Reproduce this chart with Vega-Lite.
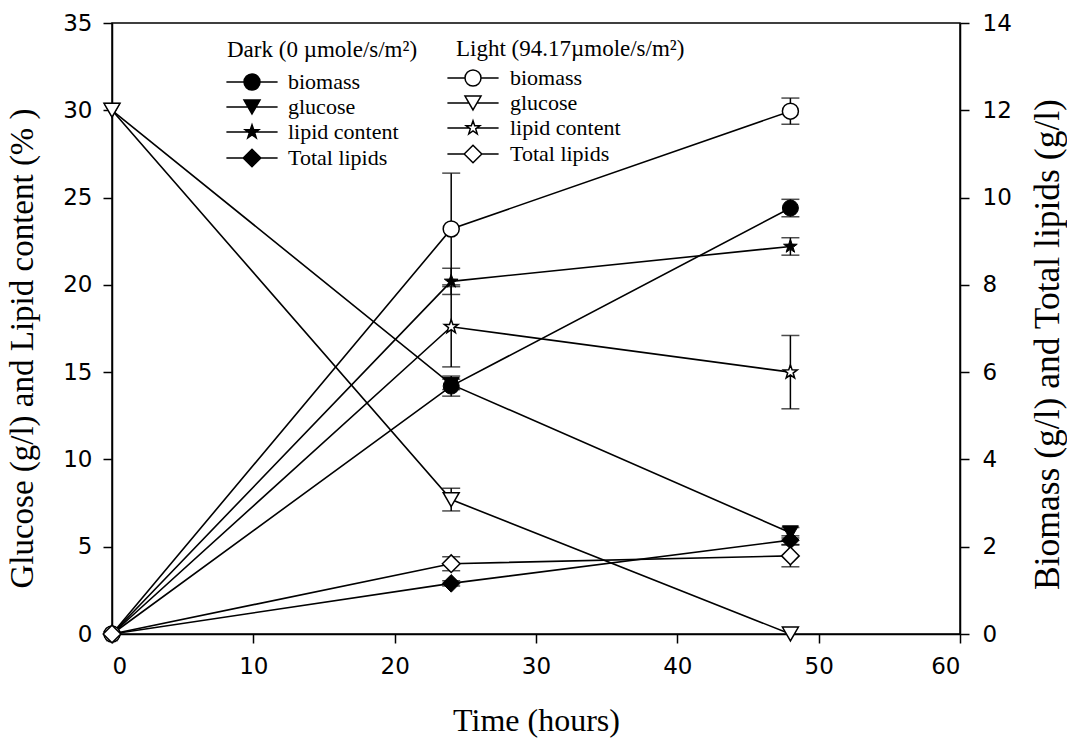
{
  "$schema": "https://vega.github.io/schema/vega-lite/v6.json",
  "width": 848,
  "height": 611,
  "autosize": {"type": "none"},
  "padding": {"left": 112, "top": 23, "right": 107, "bottom": 104},
  "background": "white",
  "config": {
    "view": {"stroke": "black", "strokeWidth": 1.5},
    "axis": {
      "domainColor": "black", "domainWidth": 1.5,
      "tickColor": "black", "tickWidth": 1.5, "tickSize": 9,
      "grid": false,
      "labelFont": "DejaVu Sans", "labelFontSize": 23, "labelColor": "black",
      "titleFont": "Liberation Serif", "titleFontSize": 32, "titleFontWeight": "normal", "titleColor": "black"
    },
    "legend": {
      "orient": "none", "padding": 0,
      "titleFont": "Liberation Serif", "titleFontSize": 23, "titleFontWeight": "normal", "titleColor": "black", "titleLimit": 400,
      "labelFont": "Liberation Serif", "labelFontSize": 22, "labelColor": "black", "labelLimit": 300,
      "symbolSize": 256, "symbolStrokeWidth": 1.5, "symbolOpacity": 1, "rowPadding": 3
    }
  },
  "data": {
    "values": [
      {"time": 0, "cond": "Dark", "measure": "glucose", "side": "left", "value": 30, "sd": 0},
      {"time": 24, "cond": "Dark", "measure": "glucose", "side": "left", "value": 14.3, "sd": 0.3},
      {"time": 48, "cond": "Dark", "measure": "glucose", "side": "left", "value": 5.8, "sd": 0.3},
      {"time": 0, "cond": "Dark", "measure": "lipid content", "side": "left", "value": 0, "sd": 0},
      {"time": 24, "cond": "Dark", "measure": "lipid content", "side": "left", "value": 20.2, "sd": 0.75},
      {"time": 48, "cond": "Dark", "measure": "lipid content", "side": "left", "value": 22.2, "sd": 0.5},
      {"time": 0, "cond": "Light", "measure": "glucose", "side": "left", "value": 30, "sd": 0},
      {"time": 24, "cond": "Light", "measure": "glucose", "side": "left", "value": 7.7, "sd": 0.65},
      {"time": 48, "cond": "Light", "measure": "glucose", "side": "left", "value": 0, "sd": 0},
      {"time": 0, "cond": "Light", "measure": "lipid content", "side": "left", "value": 0, "sd": 0},
      {"time": 24, "cond": "Light", "measure": "lipid content", "side": "left", "value": 17.6, "sd": 2.3},
      {"time": 48, "cond": "Light", "measure": "lipid content", "side": "left", "value": 15.0, "sd": 2.1},
      {"time": 0, "cond": "Dark", "measure": "biomass", "side": "right", "value": 0, "sd": 0},
      {"time": 24, "cond": "Dark", "measure": "biomass", "side": "right", "value": 5.68, "sd": 0.23},
      {"time": 48, "cond": "Dark", "measure": "biomass", "side": "right", "value": 9.76, "sd": 0.2},
      {"time": 0, "cond": "Dark", "measure": "Total lipids", "side": "right", "value": 0, "sd": 0},
      {"time": 24, "cond": "Dark", "measure": "Total lipids", "side": "right", "value": 1.16, "sd": 0.06},
      {"time": 48, "cond": "Dark", "measure": "Total lipids", "side": "right", "value": 2.15, "sd": 0.1},
      {"time": 0, "cond": "Light", "measure": "biomass", "side": "right", "value": 0, "sd": 0},
      {"time": 24, "cond": "Light", "measure": "biomass", "side": "right", "value": 9.28, "sd": 1.28},
      {"time": 48, "cond": "Light", "measure": "biomass", "side": "right", "value": 11.98, "sd": 0.3},
      {"time": 0, "cond": "Light", "measure": "Total lipids", "side": "right", "value": 0, "sd": 0},
      {"time": 24, "cond": "Light", "measure": "Total lipids", "side": "right", "value": 1.61, "sd": 0.16},
      {"time": 48, "cond": "Light", "measure": "Total lipids", "side": "right", "value": 1.79, "sd": 0.25}
    ]
  },
  "encoding": {
    "x": {
      "field": "time", "type": "quantitative",
      "scale": {"domain": [0, 60], "nice": false},
      "axis": {
        "title": "Time (hours)", "values": [0, 10, 20, 30, 40, 50, 60],
        "labelPadding": 12,
        "titleX": 424, "titleY": 96, "titleAlign": "center", "titleBaseline": "alphabetic"
      }
    }
  },
  "layer": [
    {
      "transform": [{"filter": "datum.side === 'left'"}],
      "mark": {"type": "line", "color": "black", "strokeWidth": 1.6},
      "encoding": {
        "y": {
          "field": "value", "type": "quantitative",
          "scale": {"domain": [0, 35], "nice": false},
          "axis": {
            "orient": "left", "title": "Glucose (g/l) and  Lipid content (% )",
            "values": [0, 5, 10, 15, 20, 25, 30, 35], "labelPadding": 11,
            "titleFontSize": 33,
            "titleAngle": -90, "titleX": -80, "titleY": 325, "titleAlign": "center", "titleBaseline": "alphabetic"
          }
        },
        "detail": [{"field": "cond"}, {"field": "measure"}]
      }
    },
    {
      "transform": [{"filter": "datum.side === 'right'"}],
      "mark": {"type": "line", "color": "black", "strokeWidth": 1.6},
      "encoding": {
        "y": {
          "field": "value", "type": "quantitative",
          "scale": {"domain": [0, 14], "nice": false},
          "axis": {
            "orient": "right", "title": "Biomass (g/l) and Total lipids (g/l)",
            "values": [0, 2, 4, 6, 8, 10, 12, 14], "labelPadding": 13,
            "titleFontSize": 35.5,
            "titleAngle": -90, "titleX": 98, "titleY": 321, "titleAlign": "center", "titleBaseline": "alphabetic"
          }
        },
        "detail": [{"field": "cond"}, {"field": "measure"}]
      }
    },
    {
      "transform": [{"filter": "datum.side === 'left' && datum.sd > 0"}],
      "mark": {"type": "errorbar", "ticks": true, "size": 18, "thickness": 1.5, "color": "black"},
      "encoding": {
        "y": {"field": "value", "type": "quantitative", "scale": {"domain": [0, 35], "nice": false}, "axis": null},
        "yError": {"field": "sd"}
      }
    },
    {
      "transform": [{"filter": "datum.side === 'right' && datum.sd > 0"}],
      "mark": {"type": "errorbar", "ticks": true, "size": 18, "thickness": 1.5, "color": "black"},
      "encoding": {
        "y": {"field": "value", "type": "quantitative", "scale": {"domain": [0, 14], "nice": false}, "axis": null},
        "yError": {"field": "sd"}
      }
    },
    {
      "transform": [{"filter": "datum.side === 'left' && datum.cond === 'Dark'"}],
      "mark": {"type": "point", "filled": true, "fill": "black", "stroke": "black", "strokeWidth": 1, "opacity": 1, "size": 256},
      "encoding": {
        "y": {"field": "value", "type": "quantitative", "scale": {"domain": [0, 35], "nice": false}, "axis": null},
        "shape": {
          "field": "measure", "type": "nominal", "legend": null,
          "scale": {
            "domain": ["biomass", "glucose", "lipid content", "Total lipids"],
            "range": ["circle", "triangle-down", "M0,-0.9L0.212,-0.291L0.856,-0.278L0.342,0.111L0.529,0.728L0,0.36L-0.529,0.728L-0.342,0.111L-0.856,-0.278L-0.212,-0.291Z", "M-1.1,0L0,-1.1L1.1,0L0,1.1Z"]
          }
        }
      }
    },
    {
      "transform": [{"filter": "datum.side === 'right' && datum.cond === 'Dark'"}],
      "mark": {"type": "point", "filled": true, "fill": "black", "stroke": "black", "strokeWidth": 1, "opacity": 1, "size": 256},
      "encoding": {
        "y": {"field": "value", "type": "quantitative", "scale": {"domain": [0, 14], "nice": false}, "axis": null},
        "shape": {
          "field": "measure", "type": "nominal", "legend": null,
          "scale": {
            "domain": ["biomass", "glucose", "lipid content", "Total lipids"],
            "range": ["circle", "triangle-down", "M0,-0.9L0.212,-0.291L0.856,-0.278L0.342,0.111L0.529,0.728L0,0.36L-0.529,0.728L-0.342,0.111L-0.856,-0.278L-0.212,-0.291Z", "M-1.1,0L0,-1.1L1.1,0L0,1.1Z"]
          }
        }
      }
    },
    {
      "transform": [{"filter": "datum.side === 'left' && datum.cond === 'Light'"}],
      "mark": {"type": "point", "filled": true, "fill": "white", "stroke": "black", "strokeWidth": 1.5, "opacity": 1, "size": 256},
      "encoding": {
        "y": {"field": "value", "type": "quantitative", "scale": {"domain": [0, 35], "nice": false}, "axis": null},
        "shape": {
          "field": "measure", "type": "nominal", "legend": null,
          "scale": {
            "domain": ["biomass", "glucose", "lipid content", "Total lipids"],
            "range": ["circle", "triangle-down", "M0,-0.9L0.212,-0.291L0.856,-0.278L0.342,0.111L0.529,0.728L0,0.36L-0.529,0.728L-0.342,0.111L-0.856,-0.278L-0.212,-0.291Z", "M-1.1,0L0,-1.1L1.1,0L0,1.1Z"]
          }
        }
      }
    },
    {
      "transform": [{"filter": "datum.side === 'right' && datum.cond === 'Light'"}],
      "mark": {"type": "point", "filled": true, "fill": "white", "stroke": "black", "strokeWidth": 1.5, "opacity": 1, "size": 256},
      "encoding": {
        "y": {"field": "value", "type": "quantitative", "scale": {"domain": [0, 14], "nice": false}, "axis": null},
        "shape": {
          "field": "measure", "type": "nominal", "legend": null,
          "scale": {
            "domain": ["biomass", "glucose", "lipid content", "Total lipids"],
            "range": ["circle", "triangle-down", "M0,-0.9L0.212,-0.291L0.856,-0.278L0.342,0.111L0.529,0.728L0,0.36L-0.529,0.728L-0.342,0.111L-0.856,-0.278L-0.212,-0.291Z", "M-1.1,0L0,-1.1L1.1,0L0,1.1Z"]
          }
        }
      }
    },
    {
      "description": "Legend key for the dark condition: line-and-marker glyphs, no plotted rows.",
      "transform": [{"filter": "datum.time < 0"}],
      "mark": {"type": "point", "filled": true, "fill": "black", "stroke": "black", "strokeWidth": 1.5, "opacity": 1, "size": 256},
      "encoding": {
        "y": {"field": "value", "type": "quantitative", "scale": {"domain": [0, 35], "nice": false}, "axis": null},
        "shape": {
          "field": "measure", "type": "nominal",
          "scale": {
            "domain": ["biomass", "glucose", "lipid content", "Total lipids"],
            "range": [
              "M-3.2,0H-1M1,0H3.2M1,0A1,1,0,1,1,-1,0A1,1,0,1,1,1,0Z",
              "M-3.2,0H-0.5M0.5,0H3.2M0,0.866L1,-0.866L-1,-0.866Z",
              "M-3.2,0H-0.49M0.49,0H3.2M0,-0.9L0.212,-0.291L0.856,-0.278L0.342,0.111L0.529,0.728L0,0.36L-0.529,0.728L-0.342,0.111L-0.856,-0.278L-0.212,-0.291Z",
              "M-3.2,0H-1.1M1.1,0H3.2M-1.1,0L0,-1.1L1.1,0L0,1.1Z"
            ]
          },
          "legend": {
            "legendX": 115, "legendY": 16,
            "title": "Dark (0 µmole/s/m²)", "titlePadding": 9,
            "symbolOffset": 14, "labelOffset": 25
          }
        },
        "stroke": {
          "field": "measure", "type": "nominal",
          "scale": {
            "domain": ["biomass", "glucose", "lipid content", "Total lipids"],
            "range": ["black", "black", "black", "black"]
          },
          "legend": {
            "legendX": 115, "legendY": 16,
            "title": "Dark (0 µmole/s/m²)", "titlePadding": 9,
            "symbolOffset": 14, "labelOffset": 25
          }
        }
      }
    },
    {
      "description": "Legend key for the light condition: line-and-marker glyphs, no plotted rows.",
      "transform": [{"filter": "datum.time < 0"}],
      "mark": {"type": "point", "filled": true, "fill": "white", "stroke": "black", "strokeWidth": 1.5, "opacity": 1, "size": 256},
      "encoding": {
        "y": {"field": "value", "type": "quantitative", "scale": {"domain": [0, 35], "nice": false}, "axis": null},
        "shape": {
          "field": "measure", "type": "nominal",
          "scale": {
            "domain": ["biomass", "glucose", "lipid content", "Total lipids"],
            "range": [
              "M-3.2,0H-1M1,0H3.2M1,0A1,1,0,1,1,-1,0A1,1,0,1,1,1,0Z",
              "M-3.2,0H-0.5M0.5,0H3.2M0,0.866L1,-0.866L-1,-0.866Z",
              "M-3.2,0H-0.49M0.49,0H3.2M0,-0.9L0.212,-0.291L0.856,-0.278L0.342,0.111L0.529,0.728L0,0.36L-0.529,0.728L-0.342,0.111L-0.856,-0.278L-0.212,-0.291Z",
              "M-3.2,0H-1.1M1.1,0H3.2M-1.1,0L0,-1.1L1.1,0L0,1.1Z"
            ]
          },
          "legend": {
            "legendX": 344, "legendY": 15,
            "title": "Light (94.17µmole/s/m²)", "titlePadding": 6,
            "symbolOffset": 6, "labelOffset": 26
          }
        },
        "stroke": {
          "field": "measure", "type": "nominal",
          "scale": {
            "domain": ["biomass", "glucose", "lipid content", "Total lipids"],
            "range": ["black", "black", "black", "black"]
          },
          "legend": {
            "legendX": 344, "legendY": 15,
            "title": "Light (94.17µmole/s/m²)", "titlePadding": 6,
            "symbolOffset": 6, "labelOffset": 26
          }
        }
      }
    }
  ],
  "resolve": {
    "scale": {"y": "independent", "shape": "independent", "stroke": "independent"},
    "legend": {"shape": "independent", "stroke": "independent"}
  }
}
